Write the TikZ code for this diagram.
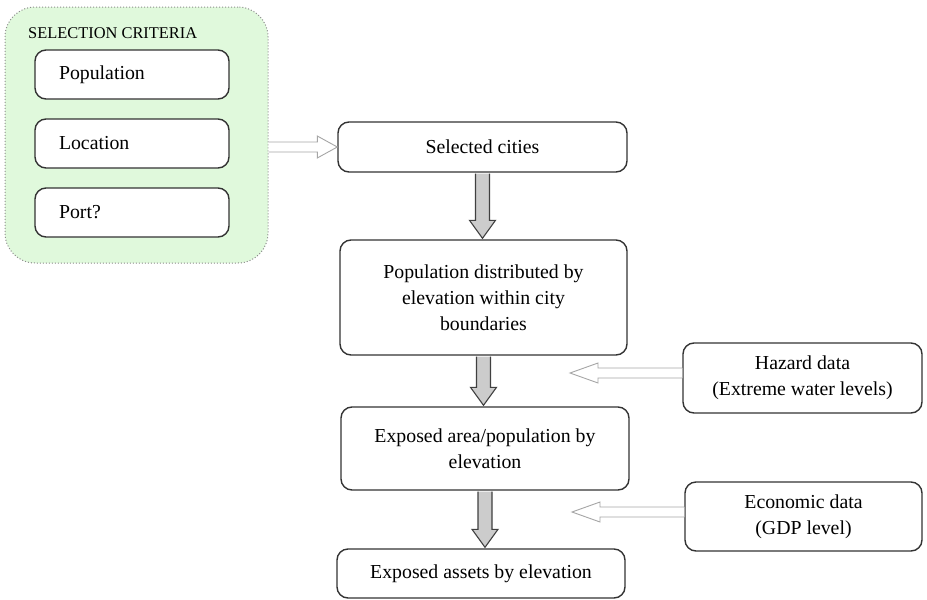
\documentclass[tikz,border=0pt]{standalone}
\usepackage{fontspec}
\setmainfont{Liberation Serif}
\usetikzlibrary{calc}
\definecolor{critgreen}{RGB}{224,249,220}
\newcommand\fatdown[2]{%
  \draw[fat] ($(#1)+(-7,1)$) -- ($(#2)+(-7,-18)$) -- ($(#2)+(-13,-18)$) -- (#2)
    -- ($(#2)+(13,-18)$) -- ($(#2)+(7,-18)$) -- ($(#1)+(7,1)$);}
\newcommand\hollowarrow[4]{%
  \path ($(#2)!#3!(#1)$) coordinate (hb);
  \draw[hollow] ($(#1)!5pt!90:(#2)$) -- ($(hb)!5pt!90:(#2)$) -- ($(hb)!#4!90:(#2)$)
    -- (#2) -- ($(hb)!#4!-90:(#2)$) -- ($(hb)!5pt!-90:(#2)$) -- ($(#1)!5pt!-90:(#2)$);}
\begin{document}
\begin{tikzpicture}[x=1pt,y=-1pt,
  box/.style={draw=black!80, line width=1.4pt, rounded corners=11pt, fill=white,
    inner sep=0pt, font=\fontsize{19.8}{26}\selectfont, align=center},
  crit/.style={box, align=left, text width=146pt, inner xsep=24pt},
  critbg/.style={draw=black!45, dotted, line width=1pt, fill=critgreen, rounded corners=30pt, inner sep=0pt},
  fat/.style={draw=black!75, fill=black!20, line width=1.1pt},
  hollow/.style={draw=black!35, fill=white, line width=0.9pt},
]
\useasboundingbox (0,0) rectangle (927,600);
% selection criteria group
\node[critbg, minimum width=263pt, minimum height=256pt] (crit) at (136.5,135) {};
\node[anchor=west, inner sep=0pt, font=\fontsize{16.4}{19}\selectfont] (crittitle) at (28,33) {SELECTION CRITERIA};
\node[crit, minimum height=49pt] (popc) at (132,74.5) {Population};
\node[crit, minimum height=49pt] (loc) at (132,143.5) {Location};
\node[crit, minimum height=49pt] (port) at (132,212.5) {Port?};
% main chain
\node[box, minimum width=289pt, minimum height=50pt] (sel) at (482.5,147) {Selected cities};
\node[box, minimum width=287pt, minimum height=115pt] (pop) at (483.5,297.5) {Population distributed by\\elevation within city\\boundaries};
\node[box, minimum width=288pt, minimum height=83pt] (area) at (485,448.5) {Exposed area/population by\\elevation};
\node[box, minimum width=288pt, minimum height=49pt] (assets) at (481,573.5) {Exposed assets by elevation};
% inputs
\node[box, minimum width=239pt, minimum height=70pt] (haz) at (802.5,378) {Hazard data\\(Extreme water levels)};
\node[box, minimum width=237pt, minimum height=69pt] (econ) at (803.5,516.5) {Economic data\\(GDP level)};
\coordinate (hazTip) at (570,373);
\coordinate (econTip) at (572,512);
% connectors
\fatdown{sel.south}{$(sel.south |- pop.north)+(0,-1)$}
\fatdown{pop.south}{$(pop.south |- area.north)+(0,-1)$}
\fatdown{area.south}{$(area.south |- assets.north)+(0,-1)$}
\hollowarrow{crit.east |- sel.west}{sel.west}{20pt}{11pt}
\hollowarrow{$(haz.west)+(0,-5)$}{hazTip}{28pt}{10pt}
\hollowarrow{$(econ.west)+(0,-4.5)$}{econTip}{28pt}{10pt}
\end{tikzpicture}
\end{document}
